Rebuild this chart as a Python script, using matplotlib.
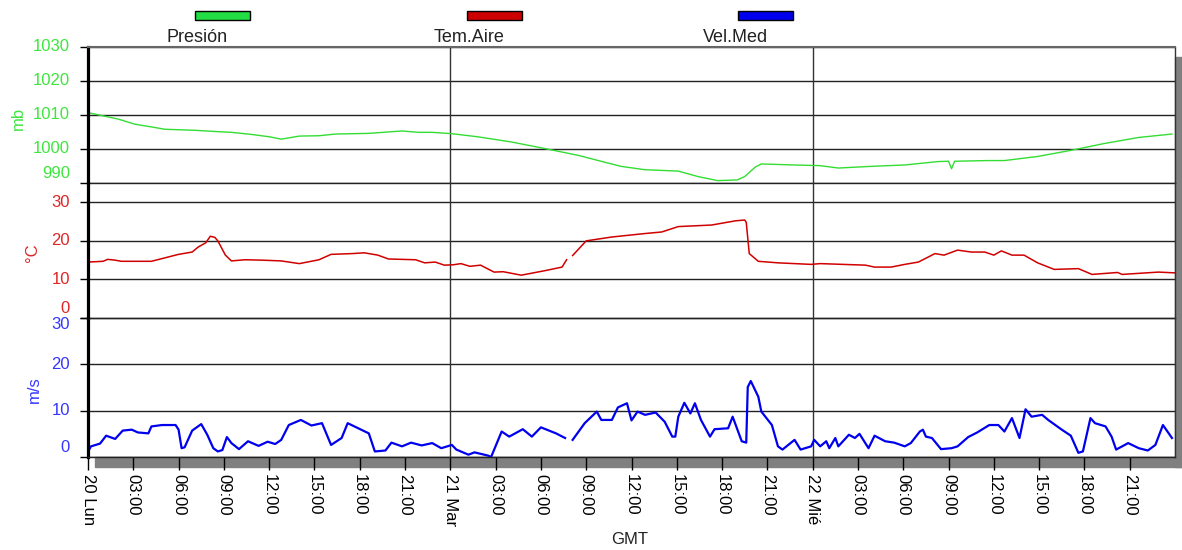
import numpy as np
import matplotlib
matplotlib.use("Agg")
import matplotlib.pyplot as plt
from matplotlib.patches import Rectangle

plt.rcParams['font.family'] = ['Liberation Sans', 'DejaVu Sans']

# ---------------- data (hours since 20 Lun 00:00 GMT) ----------------
pres_t = [0, 2.0, 3.1, 4.2, 5.1, 7.1, 8.2, 9.5, 10.8, 12.0, 12.8, 14.0, 15.3, 16.4, 18.6,
          20.8, 21.9, 22.8, 24.1, 25.8, 28.0, 30.3, 32.5, 33.8, 35.3, 36.9, 39.1, 40.4,
          41.7, 43.0, 43.5, 44.2, 44.6, 46.8, 48.5, 49.7, 51.9, 54.1, 56.3, 57.0, 57.2,
          57.4, 59.6, 60.7, 62.9, 65.1, 67.3, 69.6, 71.8]
pres_v = [1010.7, 1008.8, 1007.3, 1006.5, 1005.8, 1005.5, 1005.2, 1004.9, 1004.3, 1003.6,
          1002.9, 1003.8, 1003.9, 1004.4, 1004.6, 1005.3, 1004.9, 1004.9, 1004.5, 1003.6,
          1002.1, 1000.1, 998.1, 996.6, 994.9, 993.9, 993.5, 991.9, 990.7, 990.9, 991.9,
          994.7, 995.6, 995.3, 995.1, 994.4, 994.9, 995.3, 996.3, 996.4, 994.2, 996.4,
          996.6, 996.6, 997.8, 999.6, 1001.6, 1003.4, 1004.4]

temp_t = [0, 1.0, 1.3, 1.8, 2.2, 4.2, 5.3, 6.0, 6.9, 7.3, 7.8, 8.1, 8.4, 8.6, 9.1, 9.5,
          10.4, 11.5, 12.8, 14.0, 15.3, 16.1, 17.5, 18.3, 19.2, 19.9, 21.7, 22.3, 23.0,
          23.6, 24.2, 24.7, 25.3, 26.0, 26.9, 27.5, 28.7, 30.3, 31.4, 31.7, 31.9, 32.1,
          33.0, 34.7, 36.9, 38.0, 39.1, 41.3, 42.9, 43.5, 43.6, 43.8, 44.4, 45.7, 47.9,
          48.5, 51.5, 52.1, 53.2, 54.1, 55.0, 56.1, 56.7, 57.6, 58.5, 59.4, 60.0, 60.5,
          61.2, 62.0, 62.9, 64.0, 65.6, 66.5, 68.2, 68.5, 70.9, 72.0]
temp_v = [14.5, 14.7, 15.2, 15.0, 14.7, 14.7, 15.8, 16.5, 17.1, 18.4, 19.5, 21.2, 20.9,
          20.0, 16.3, 14.8, 15.1, 15.0, 14.8, 14.1, 15.1, 16.5, 16.7, 16.9, 16.3, 15.3,
          15.1, 14.3, 14.5, 13.7, 13.8, 14.1, 13.4, 13.7, 11.9, 12.0, 11.1, 12.3, 13.2,
          15.1, np.nan, 16.2, 20.0, 21.0, 21.9, 22.3, 23.7, 24.1, 25.2, 25.4, 24.8, 16.7,
          14.7, 14.3, 13.9, 14.1, 13.7, 13.2, 13.2, 13.9, 14.5, 16.7, 16.3, 17.6, 17.1,
          17.1, 16.3, 17.4, 16.3, 16.3, 14.3, 12.6, 12.8, 11.3, 11.8, 11.3, 11.9, 11.7]

wind_t = [0, 0.2, 0.8, 1.2, 1.8, 2.3, 2.9, 3.3, 4.0, 4.2, 4.9, 5.8, 6.0, 6.2, 6.4, 6.9,
          7.5, 7.9, 8.3, 8.6, 8.9, 9.2, 9.5, 10.0, 10.6, 11.3, 11.9, 12.4, 12.8, 13.3,
          14.1, 14.8, 15.5, 16.1, 16.8, 17.2, 17.9, 18.6, 19.0, 19.7, 20.1, 20.8, 21.4,
          22.1, 22.8, 23.4, 24.1, 24.4, 25.2, 25.6, 26.5, 26.7, 27.4, 27.9, 28.8, 29.4,
          30.0, 31.0, 31.6, 31.85, 32.1, 32.9, 33.7, 34.0, 34.7, 35.1, 35.7, 36.0, 36.4,
          36.9, 37.6, 38.2, 38.7, 38.9, 39.1, 39.5, 39.9, 40.2, 40.6, 41.2, 41.5, 42.4,
          42.7, 43.3, 43.6, 43.7, 43.9, 44.4, 44.6, 45.3, 45.7, 46.0, 46.8, 47.2, 47.9,
          48.1, 48.5, 48.9, 49.1, 49.5, 49.7, 50.4, 50.8, 51.1, 51.7, 52.1, 52.8, 53.4,
          54.1, 54.5, 55.1, 55.3, 55.5, 55.9, 56.5, 57.2, 57.6, 58.3, 58.9, 59.7, 60.3,
          60.7, 61.2, 61.7, 62.1, 62.5, 63.2, 63.6, 64.5, 65.1, 65.6, 65.9, 66.4, 66.7,
          67.4, 67.8, 68.1, 68.9, 69.6, 70.2, 70.7, 71.2, 71.5, 71.8]
wind_v = [1.2, 2.3, 2.9, 4.6, 3.9, 5.7, 5.9, 5.3, 5.1, 6.6, 6.9, 6.9, 5.9, 1.9, 2.1, 5.7,
          7.1, 4.8, 1.9, 1.2, 1.5, 4.3, 3.0, 1.7, 3.4, 2.4, 3.3, 2.8, 3.7, 6.9, 8.0, 6.8,
          7.3, 2.6, 4.1, 7.3, 6.2, 5.1, 1.2, 1.4, 3.1, 2.3, 3.1, 2.5, 3.0, 1.9, 2.6, 1.6,
          0.5, 1.0, 0.3, 0.0, 5.5, 4.4, 6.0, 4.4, 6.4, 5.1, 4.1, np.nan, 3.7, 7.3, 9.8,
          8.0, 8.0, 10.7, 11.6, 7.9, 9.8, 9.1, 9.6, 7.6, 4.4, 4.4, 8.7, 11.7, 9.4, 11.6,
          8.0, 4.4, 6.0, 6.2, 8.7, 3.4, 3.1, 15.1, 16.4, 13.0, 9.8, 6.9, 2.3, 1.6, 3.7,
          1.6, 2.3, 3.7, 2.3, 3.4, 1.9, 4.1, 2.3, 4.8, 4.1, 5.0, 1.9, 4.6, 3.4, 3.1, 2.3,
          3.0, 5.5, 5.9, 4.4, 4.1, 1.7, 1.9, 2.3, 4.3, 5.3, 6.9, 6.9, 5.5, 8.4, 4.1, 10.3,
          8.7, 9.1, 8.0, 5.9, 4.6, 0.9, 1.2, 8.4, 7.3, 6.6, 4.4, 1.6, 3.0, 1.9, 1.4, 2.6,
          6.9, 5.5, 4.1]

xtick_hours = list(range(0, 72, 3))
xtick_labels = ["20 Lun", "03:00", "06:00", "09:00", "12:00", "15:00", "18:00", "21:00",
                "21 Mar", "03:00", "06:00", "09:00", "12:00", "15:00", "18:00", "21:00",
                "22 Mié", "03:00", "06:00", "09:00", "12:00", "15:00", "18:00", "21:00"]
day_hours = [24, 48]

pres_ticks = [990, 1000, 1010, 1020, 1030]
temp_ticks = [0, 10, 20, 30]
wind_ticks = [0, 10, 20, 30]

series_names = ["Presión", "Tem.Aire", "Vel.Med"]
unit_names = ["mb", "°C", "m/s"]

# ---------------- styling ----------------
W, H = 1182, 550
GREEN_L, RED_L, BLUE_L = '#33dd33', '#d00000', '#0000ee'
GREEN_T, RED_T, BLUE_T = '#3de63d', '#e02525', '#3535ff'

def fx(x):
    return x / W

def fy(y):
    return 1 - y / H

fig = plt.figure(figsize=(W / 100, H / 100), dpi=100, facecolor='white')
left, right = 88, 1175
panels = [(47, 183), (183, 318), (318, 457)]
axes = []
for top, bot in panels:
    ax = fig.add_axes([fx(left), fy(bot), fx(right - left), (bot - top) / H])
    ax.set_facecolor('none')
    axes.append(ax)
ax_p, ax_t, ax_w = axes

ax_p.plot(pres_t, pres_v, color=GREEN_L, lw=1.0)
ax_p.set_ylim(990, 1030)
ax_t.plot(temp_t, temp_v, color=RED_L, lw=1.1)
ax_t.set_ylim(0, 35)
ax_w.plot(wind_t, wind_v, color=BLUE_L, lw=1.6)
ax_w.set_ylim(0, 30)

tick_sets = [(ax_p, pres_ticks, GREEN_T), (ax_t, temp_ticks, RED_T), (ax_w, wind_ticks, BLUE_T)]
for i, (ax, ticks, col) in enumerate(tick_sets):
    ax.set_xlim(0, 72)
    ax.set_yticks(ticks)
    ax.tick_params(axis='y', length=5.8, width=1, color='black', labelleft=False)
    ax.yaxis.grid(True, color='#222222', lw=1)
    ax.set_axisbelow(True)
    for hday in day_hours:
        ax.axvline(hday, color='#333333', lw=1, zorder=1)
    ax.spines['left'].set_linewidth(2.3)
    ax.spines['left'].set_color('black')
    ax.spines['right'].set_color('#333333')
    ax.spines['right'].set_linewidth(1)
    ax.spines['top'].set_visible(False)
    ax.spines['bottom'].set_color('#222222')
    ax.spines['bottom'].set_linewidth(1)
    for tv in ticks:
        dy = 0
        if tv == ticks[0]:
            dy = 7.0
        if ax is ax_w and tv == ticks[-1]:
            dy = -5.0
        ax.annotate(str(tv), xy=(0, tv), xycoords=('axes fraction', 'data'),
                    xytext=(-13, dy), textcoords='offset points',
                    ha='right', va='center', fontsize=12, color=col,
                    annotation_clip=False)
    if ax is not ax_w:
        ax.tick_params(axis='x', bottom=False, labelbottom=False)

ax_p.spines['top'].set_visible(True)
ax_p.spines['top'].set_color('#666666')
ax_p.spines['top'].set_linewidth(1.5)

ax_w.set_xticks(xtick_hours)
ax_w.set_xticklabels(xtick_labels, rotation=270, fontsize=12, va='top', ha='center')
ax_w.tick_params(axis='x', direction='out', length=9.4, width=1, color='black', pad=3)

# shadow
fig.patches.append(Rectangle((fx(95), fy(467)), fx(1182 - 95), (467 - 457) / H,
                             transform=fig.transFigure, color='#808080', zorder=-1))
fig.patches.append(Rectangle((fx(1175), fy(467)), fx(7), (467 - 57) / H,
                             transform=fig.transFigure, color='#808080', zorder=-1))

# unit labels
fig.text(fx(18), fy(118), unit_names[0], rotation=90, ha='center', va='center',
         fontsize=12, color=GREEN_T)
fig.text(fx(32), fy(253), unit_names[1], rotation=90, ha='center', va='center',
         fontsize=12, color=RED_T)
fig.text(fx(34), fy(390), unit_names[2], rotation=90, ha='center', va='center',
         fontsize=12, color=BLUE_T)

# legend
leg_rects = [(195, '#22dd44'), (467, '#cc0000'), (738, '#0000ee')]
leg_text_x = [197, 469, 735]
for (rx, rc), tx, name in zip(leg_rects, leg_text_x, series_names):
    fig.patches.append(Rectangle((fx(rx), fy(20)), fx(55), 9 / H, transform=fig.transFigure,
                                 facecolor=rc, edgecolor='black', lw=1))
    fig.text(fx(tx), fy(37), name, ha='center', va='center', fontsize=13, color='#222222')

fig.text(fx(630), fy(540), "GMT", ha='center', va='center', fontsize=12, color='#222222')

fig.savefig("out.png", dpi=100, facecolor='white')
